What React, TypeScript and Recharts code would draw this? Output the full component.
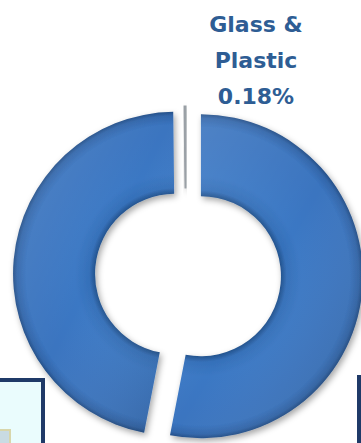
import { PieChart, Pie, Cell } from "recharts";

// shares of the waste stream, clockwise from 12 o'clock
const categories = ["Paper", "Metal", "Glass & Plastic"];
const shares = [53.06, 46.76, 0.18];
const labelLines = ["Glass &", "Plastic", "0.18%"];
const labelIndex = 2;

const data = categories.map((name, i) => ({ name, value: shares[i] }));

const CX = 188;
const CY = 275;
// how far each slice is pulled out, px
const EXPLODE = [13, 13, 7];

const total = shares.reduce((a, b) => a + b, 0);
// pull every slice out along its own mid angle
const offsets = shares.map((v, i) => {
	const before = shares.slice(0, i).reduce((a, b) => a + b, 0);
	const mid = ((before + v / 2) / total) * 2 * Math.PI;
	return { dx: EXPLODE[i] * Math.sin(mid) - (i === labelIndex ? 2 : 0), dy: -EXPLODE[i] * Math.cos(mid) };
});

const FILLS = ["url(#ring)", "url(#ring)", "url(#sliver)"];

// eslint-disable-next-line @typescript-eslint/no-explicit-any
const renderLabel = ({ index, cx }: any) => {
	if (index !== labelIndex) return null;
	return (
		<text
			x={cx + 68}
			y={32}
			fill="#2e5d94"
			textAnchor="middle"
			fontFamily="DejaVu Sans"
			fontWeight="bold"
			fontSize={22}
		>
			{labelLines.map((line, i) => (
				<tspan key={line} x={cx + 68} dy={i === 0 ? 0 : 36}>
					{line}
				</tspan>
			))}
		</text>
	);
};

export default function App() {
	return (
		<div style={{ position: "absolute", left: 0, top: 0, width: 361, height: 443, overflow: "hidden", background: "#fff" }}>
			<PieChart width={361} height={443} margin={{ top: 0, right: 0, bottom: 0, left: 0 }}>
				<defs>
					<radialGradient id="ring" gradientUnits="userSpaceOnUse" cx={CX} cy={CY} r={162}>
						<stop offset="0.49" stopColor="#21508a" />
						<stop offset="0.53" stopColor="#3570b9" />
						<stop offset="0.62" stopColor="#3b78c4" />
						<stop offset="0.92" stopColor="#3a74bf" />
						<stop offset="0.975" stopColor="#3266aa" />
						<stop offset="1" stopColor="#244f88" />
					</radialGradient>
					<linearGradient id="gloss" x1="0" y1="0" x2="1" y2="1">
						<stop offset="0" stopColor="#ffffff" stopOpacity={0.12} />
						<stop offset="0.5" stopColor="#ffffff" stopOpacity={0} />
						<stop offset="1" stopColor="#000000" stopOpacity={0.16} />
					</linearGradient>
					<linearGradient id="sliver" x1="0" y1="0" x2="1" y2="0">
						<stop offset="0" stopColor="#7d858d" />
						<stop offset="1" stopColor="#a7adb3" />
					</linearGradient>
					<filter id="shadow" x="-20%" y="-20%" width="140%" height="140%">
						<feDropShadow dx="2" dy="3" stdDeviation="3" floodColor="#000" floodOpacity="0.35" />
					</filter>
				</defs>
				<Pie
					data={data}
					dataKey="value"
					cx={CX}
					cy={CY}
					innerRadius={80}
					outerRadius={162}
					startAngle={90}
					endAngle={-270}
					stroke="none"
					isAnimationActive={false}
					label={renderLabel}
					labelLine={false}
				>
					{data.map((entry, i) => (
						<Cell
							key={`cell-${entry.name}`}
							fill={FILLS[i]}
							stroke={i === labelIndex ? "#9aa0a6" : "none"}
							strokeWidth={i === labelIndex ? 1.2 : 0}
							style={{
								transform: `translate(${offsets[i].dx}px, ${offsets[i].dy}px)`,
								filter: "url(#shadow)",
							}}
						/>
					))}
				</Pie>
				<Pie
					data={data}
					dataKey="value"
					cx={CX}
					cy={CY}
					innerRadius={80}
					outerRadius={162}
					startAngle={90}
					endAngle={-270}
					stroke="none"
					isAnimationActive={false}
				>
					{data.map((entry, i) => (
						<Cell
							key={`gloss-${entry.name}`}
							fill={i === labelIndex ? "none" : "url(#gloss)"}
							style={{ transform: `translate(${offsets[i].dx}px, ${offsets[i].dy}px)`, pointerEvents: "none" }}
						/>
					))}
				</Pie>
			</PieChart>
			<div
				style={{
					position: "absolute",
					left: -10,
					top: 378,
					width: 55,
					height: 90,
					boxSizing: "border-box",
					border: "4px solid #1f3a68",
					background: "#eafcfd",
				}}
			/>
			<div
				style={{
					position: "absolute",
					left: -6,
					top: 429,
					width: 17,
					height: 30,
					boxSizing: "border-box",
					border: "2px solid #d8d6ab",
					background: "#c9dbe3",
				}}
			/>
			<div style={{ position: "absolute", left: 357, top: 375, width: 4, height: 80, background: "#1f3a68" }} />
		</div>
	);
}
